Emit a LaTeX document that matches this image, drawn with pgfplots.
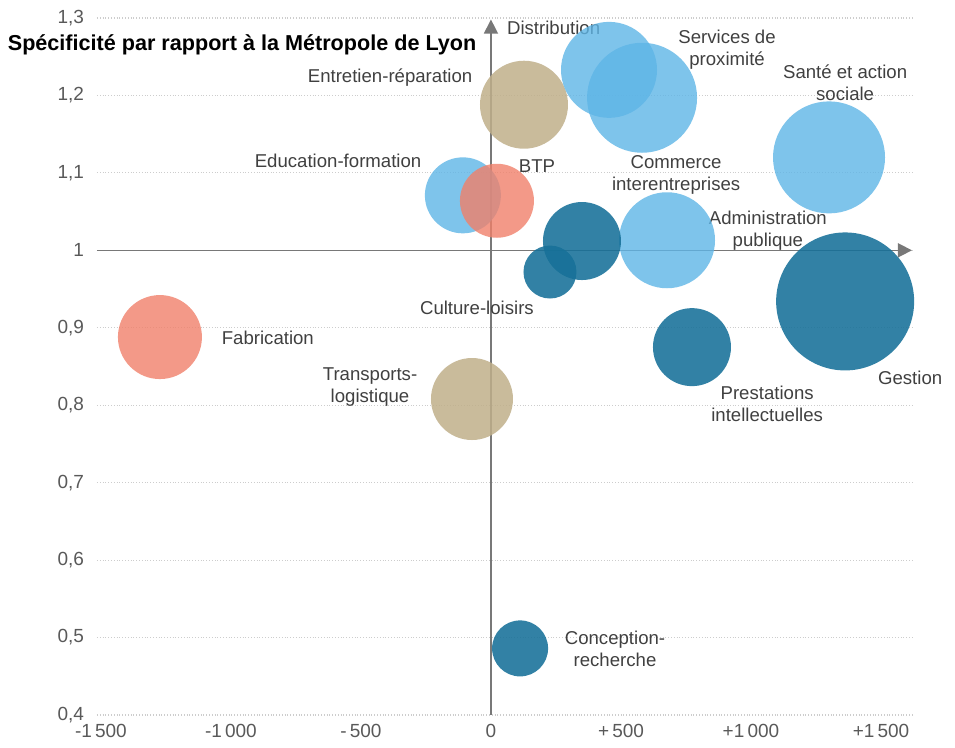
\documentclass[border=0pt]{standalone}
\usepackage{pgfplots}
\pgfplotsset{compat=1.18}
\usepackage{pgfplotstable}
\usepackage{fontspec}
\setmainfont{Liberation Sans}
\usetikzlibrary{calc,arrows.meta}

\definecolor{lblue}{RGB}{94,181,230}
\definecolor{dteal}{RGB}{22,112,152}
\definecolor{salmon}{RGB}{240,128,106}
\definecolor{tanc}{RGB}{191,175,138}
\definecolor{txt}{RGB}{64,64,64}
\definecolor{tickc}{RGB}{89,89,89}
\definecolor{axgray}{RGB}{120,120,120}
\definecolor{gridc}{RGB}{205,205,205}

% x y r(pt)
\pgfplotstableread{
x y r
454 1.233 24
581 1.197 27.5
1300 1.120 28
-108 1.071 19
677 1.013 24
}\lightblue
\pgfplotstableread{
x y r
350 1.012 19.5
227 0.972 13.25
1362 0.934 34.5
773 0.875 19.5
112 0.486 14
}\darkteal
\pgfplotstableread{
x y r
23 1.064 18.5
-1273 0.888 21
}\salmontab
\pgfplotstableread{
x y r
127 1.188 22
-73 0.808 20.5
}\tantab

\tikzset{lbl/.style={align=center, font=\fontsize{9.3}{11}\selectfont, text=txt}}
\pgfplotsset{bub/.style 2 args={
    scatter, only marks, mark=*,
    scatter/use mapped color={draw=#1, draw opacity=0, fill=#1, fill opacity=#2},
    visualization depends on={\thisrow{r} \as \rad},
    scatter/@pre marker code/.append style={/tikz/mark size=\rad},
}}

\begin{document}
\begin{tikzpicture}
\begin{axis}[
  scale only axis, width=408pt, height=348.5pt,
  xmin=-1515, xmax=1623, ymin=0.4, ymax=1.3,
  axis line style={draw=none},
  major tick length=0pt,
  xtick={-1500,-1000,-500,0,500,1000,1500},
  xticklabels={-1\,500,-1\,000,-\,500,0,+\,500,+1\,000,+1\,500},
  ytick={0.4,0.5,0.6,0.7,0.8,0.9,1,1.1,1.2,1.3},
  yticklabels={{0,4},{0,5},{0,6},{0,7},{0,8},{0,9},1,{1,1},{1,2},{1,3}},
  ymajorgrids, grid style={gridc, densely dotted, line width=0.6pt},
  clip=false,
  /pgf/number format/assume math mode=true,
  ticklabel style={font=\fontsize{9.5}{11}\selectfont, text=tickc},
  yticklabel style={xshift=-3pt},
  xticklabel style={yshift=-1pt},
]
\coordinate (bl) at (rel axis cs:0,0);
\coordinate (tr) at (rel axis cs:1,1);
\draw[axgray, line width=0.8pt, -{Triangle[length=7pt,width=7pt]}] (axis cs:-1515,1) -- (axis cs:1619,1);
\draw[axgray, line width=0.7pt, -{Triangle[length=7pt,width=7pt]}] (axis cs:0,0.4) -- (axis cs:0,1.298);

\addplot[bub={tanc}{0.85}] table[x=x,y=y] {\tantab};
\addplot[bub={lblue}{0.8}] table[x=x,y=y] {\lightblue};
\addplot[bub={salmon}{0.8}] table[x=x,y=y] {\salmontab};
\addplot[bub={dteal}{0.88}] table[x=x,y=y] {\darkteal};

\node[anchor=west, font=\bfseries\fontsize{10.8}{13}\selectfont, text=black] at (axis cs:-1885,1.265) {Spécificité par rapport à la Métropole de Lyon};
\node[lbl, anchor=west] at (axis cs:35,1.287) {Distribution};
\node[lbl] at (axis cs:908,1.259) {Services de\\proximité};
\node[lbl] at (axis cs:1362,1.217) {Santé et action\\sociale};
\node[lbl] at (axis cs:-388,1.223) {Entretien-réparation};
\node[lbl] at (axis cs:-588,1.115) {Education-formation};
\node[lbl] at (axis cs:177,1.109) {BTP};
\node[lbl] at (axis cs:712,1.097) {Commerce\\interentreprises};
\node[lbl] at (axis cs:1065,1.025) {Administration\\publique};
\node[lbl] at (axis cs:-54,0.926) {Culture-loisirs};
\node[lbl] at (axis cs:-858,0.887) {Fabrication};
\node[lbl] at (axis cs:-465,0.823) {Transports-\\logistique};
\node[lbl] at (axis cs:1612,0.835) {Gestion};
\node[lbl] at (axis cs:1062,0.802) {Prestations\\intellectuelles};
\node[lbl] at (axis cs:477,0.485) {Conception-\\recherche};
\end{axis}
\path ($(bl)+(-48.5pt,-16pt)$) rectangle ($(tr)+(21pt,9pt)$);
\end{tikzpicture}
\end{document}
